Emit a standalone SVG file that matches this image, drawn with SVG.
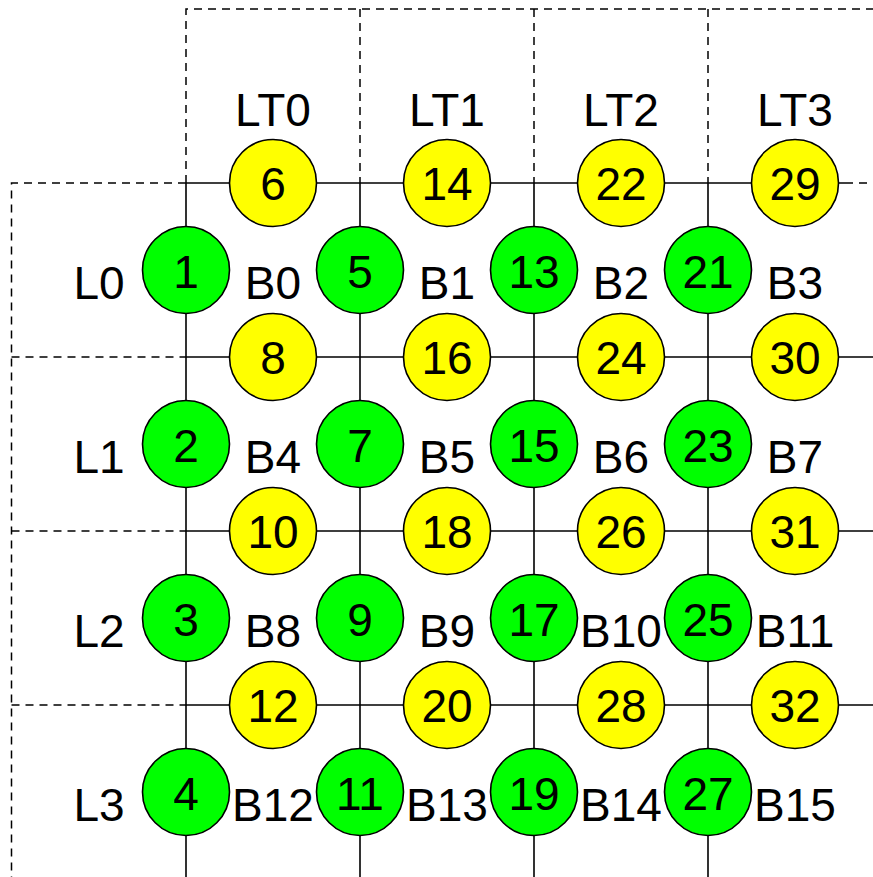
<svg xmlns="http://www.w3.org/2000/svg" width="873" height="877" viewBox="0 0 873 877">
<style>
.dash{stroke:#000;stroke-width:1.5;stroke-dasharray:8,6;fill:none}
.wire{stroke:#000;stroke-width:1.6;fill:none}
.g{fill:#00ff00;stroke:#000;stroke-width:1.6}
.y{fill:#ffff00;stroke:#000;stroke-width:1.6}
text{font-family:"Liberation Sans",Arial,sans-serif;font-size:46px;fill:#000;text-anchor:middle}
</style>
<rect width="873" height="877" fill="#fff"/>
<g id="regions">
<path class="dash" d="M186,183 V9 H880 M360,9 V183 M534,9 V183 M708,9 V183"/>
<path class="dash" d="M186,183 H11.5 V880 M11.5,357 H186 M11.5,531 H186 M11.5,705 H186"/>
<path class="dash" d="M845,183 H873"/>
</g>
<g id="connectors">
<path class="wire" d="M186,183 H845 M186,357 H873 M186,531 H873 M186,705 H873"/>
<path class="wire" d="M186,183 V877 M360,183 V877 M534,183 V877 M708,183 V877"/>
</g>
<g id="labels">
<text x="273" y="126">LT0</text>
<text x="447" y="126">LT1</text>
<text x="621" y="126">LT2</text>
<text x="795" y="126">LT3</text>
<text x="99" y="298.5">L0</text>
<text x="99" y="472.5">L1</text>
<text x="99" y="646.5">L2</text>
<text x="99" y="820.5">L3</text>
<text x="273" y="298.5">B0</text>
<text x="447" y="298.5">B1</text>
<text x="621" y="298.5">B2</text>
<text x="795" y="298.5">B3</text>
<text x="273" y="472.5">B4</text>
<text x="447" y="472.5">B5</text>
<text x="621" y="472.5">B6</text>
<text x="795" y="472.5">B7</text>
<text x="273" y="646.5">B8</text>
<text x="447" y="646.5">B9</text>
<text x="621" y="646.5">B10</text>
<text x="795" y="646.5">B11</text>
<text x="273" y="820.5">B12</text>
<text x="447" y="820.5">B13</text>
<text x="621" y="820.5">B14</text>
<text x="795" y="820.5">B15</text>
</g>
<g id="n6"><circle class="y" cx="273" cy="183" r="43.5"/><text x="273" y="200">6</text></g>
<g id="n14"><circle class="y" cx="447" cy="183" r="43.5"/><text x="447" y="200">14</text></g>
<g id="n22"><circle class="y" cx="621" cy="183" r="43.5"/><text x="621" y="200">22</text></g>
<g id="n29"><circle class="y" cx="795" cy="183" r="43.5"/><text x="795" y="200">29</text></g>
<g id="n8"><circle class="y" cx="273" cy="357" r="43.5"/><text x="273" y="374">8</text></g>
<g id="n16"><circle class="y" cx="447" cy="357" r="43.5"/><text x="447" y="374">16</text></g>
<g id="n24"><circle class="y" cx="621" cy="357" r="43.5"/><text x="621" y="374">24</text></g>
<g id="n30"><circle class="y" cx="795" cy="357" r="43.5"/><text x="795" y="374">30</text></g>
<g id="n10"><circle class="y" cx="273" cy="531" r="43.5"/><text x="273" y="548">10</text></g>
<g id="n18"><circle class="y" cx="447" cy="531" r="43.5"/><text x="447" y="548">18</text></g>
<g id="n26"><circle class="y" cx="621" cy="531" r="43.5"/><text x="621" y="548">26</text></g>
<g id="n31"><circle class="y" cx="795" cy="531" r="43.5"/><text x="795" y="548">31</text></g>
<g id="n12"><circle class="y" cx="273" cy="705" r="43.5"/><text x="273" y="722">12</text></g>
<g id="n20"><circle class="y" cx="447" cy="705" r="43.5"/><text x="447" y="722">20</text></g>
<g id="n28"><circle class="y" cx="621" cy="705" r="43.5"/><text x="621" y="722">28</text></g>
<g id="n32"><circle class="y" cx="795" cy="705" r="43.5"/><text x="795" y="722">32</text></g>
<g id="n1"><circle class="g" cx="186" cy="270" r="43.5"/><text x="186" y="287.5">1</text></g>
<g id="n5"><circle class="g" cx="360" cy="270" r="43.5"/><text x="360" y="287.5">5</text></g>
<g id="n13"><circle class="g" cx="534" cy="270" r="43.5"/><text x="534" y="287.5">13</text></g>
<g id="n21"><circle class="g" cx="708" cy="270" r="43.5"/><text x="708" y="287.5">21</text></g>
<g id="n2"><circle class="g" cx="186" cy="444" r="43.5"/><text x="186" y="461.5">2</text></g>
<g id="n7"><circle class="g" cx="360" cy="444" r="43.5"/><text x="360" y="461.5">7</text></g>
<g id="n15"><circle class="g" cx="534" cy="444" r="43.5"/><text x="534" y="461.5">15</text></g>
<g id="n23"><circle class="g" cx="708" cy="444" r="43.5"/><text x="708" y="461.5">23</text></g>
<g id="n3"><circle class="g" cx="186" cy="618" r="43.5"/><text x="186" y="635.5">3</text></g>
<g id="n9"><circle class="g" cx="360" cy="618" r="43.5"/><text x="360" y="635.5">9</text></g>
<g id="n17"><circle class="g" cx="534" cy="618" r="43.5"/><text x="534" y="635.5">17</text></g>
<g id="n25"><circle class="g" cx="708" cy="618" r="43.5"/><text x="708" y="635.5">25</text></g>
<g id="n4"><circle class="g" cx="186" cy="792" r="43.5"/><text x="186" y="809.5">4</text></g>
<g id="n11"><circle class="g" cx="360" cy="792" r="43.5"/><text x="360" y="809.5">11</text></g>
<g id="n19"><circle class="g" cx="534" cy="792" r="43.5"/><text x="534" y="809.5">19</text></g>
<g id="n27"><circle class="g" cx="708" cy="792" r="43.5"/><text x="708" y="809.5">27</text></g>
</svg>
